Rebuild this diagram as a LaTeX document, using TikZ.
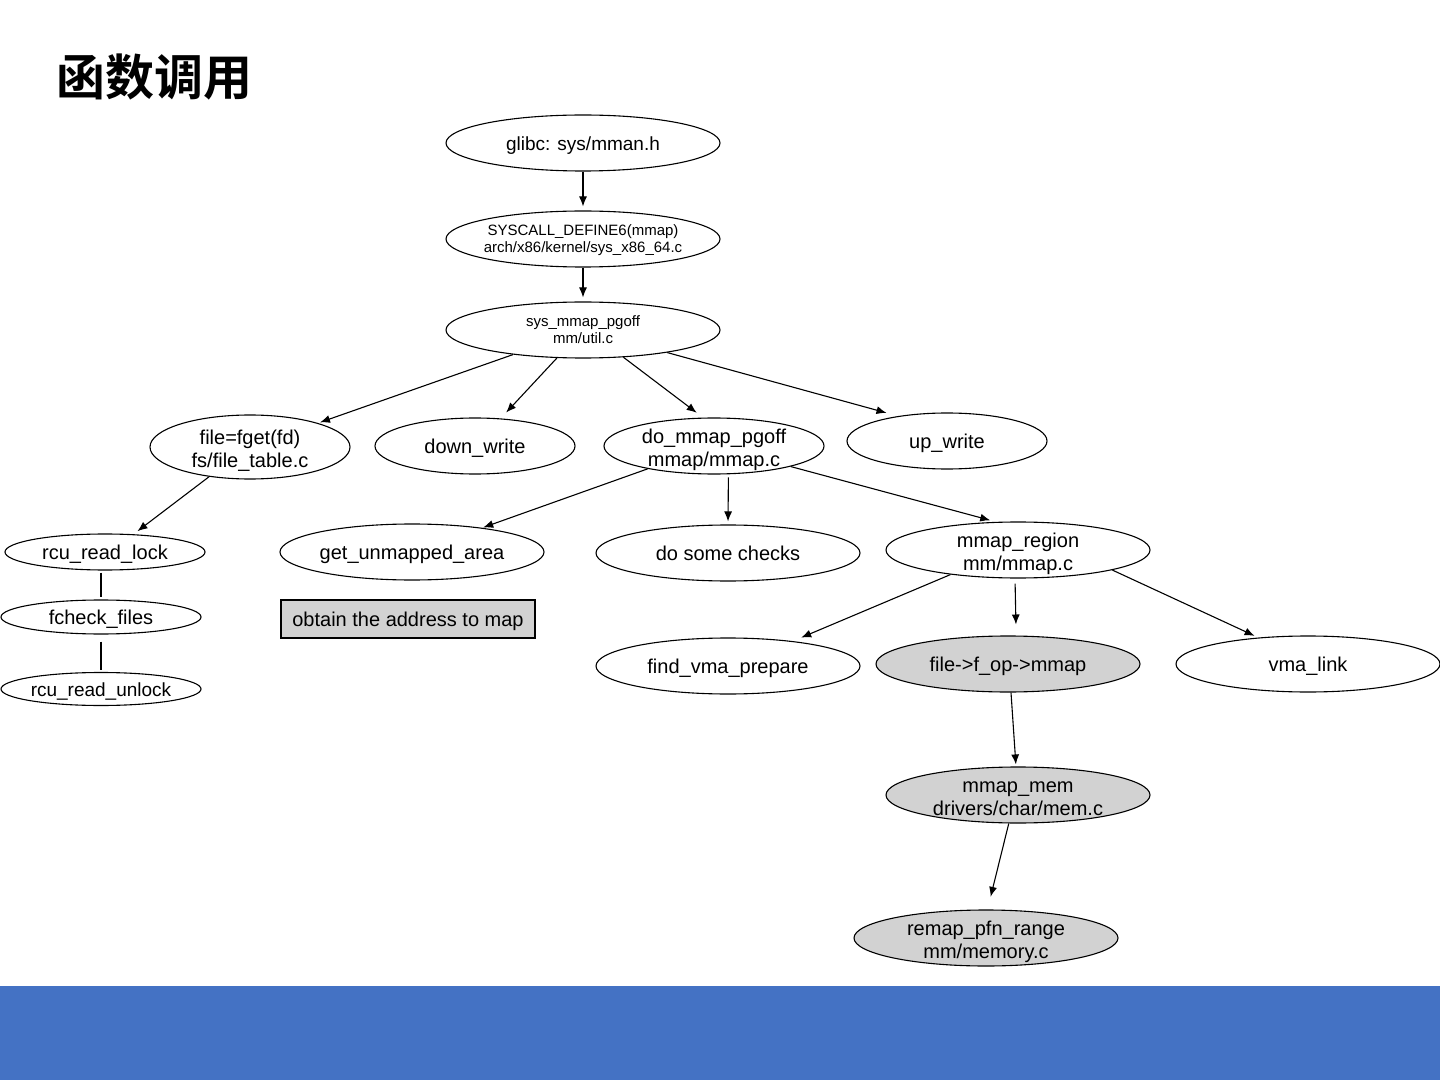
\documentclass[tikz,border=0pt]{standalone}
\usepackage{fontspec}
\setmainfont{Liberation Sans}
\newfontfamily\cjk{Noto Sans CJK SC}[BoldFont={Noto Sans CJK SC Bold}]
\usetikzlibrary{shapes.geometric,arrows.meta}
\definecolor{barblue}{RGB}{68,114,196}
\tikzset{
  fn/.style={ellipse, draw, inner sep=0pt, align=center,
    minimum width=132pt, minimum height=28pt,
    font=\fontsize{10}{11.5}\selectfont},
  one/.style={text height=9pt, text depth=1.5pt},
  two/.style={text height=#1, text depth=2pt, inner ysep=-4pt},
  two/.default=22.5pt,
  fnhot/.style={fn, fill=gray!35},
  fnsmall/.style={fn, minimum width=137pt, font=\fontsize{7.5}{8.5}\selectfont},
  note/.style={draw, fill=gray!35, inner sep=0pt, minimum width=127pt,
    minimum height=19pt, font=\fontsize{10}{11.5}\selectfont},
  call/.style={->, shorten >=#1},
  call/.default=0pt
}
\begin{document}
\begin{tikzpicture}[x=0.5pt, y=-0.5pt, >={Latex[length=5pt,width=4pt]}, line width=0.55pt]
    % 1. Page and title
    \useasboundingbox (0,0) rectangle (1440,1080);
    \fill[barblue] (0,986) rectangle (1440,1080);
    \node[font=\cjk\bfseries\fontsize{24.5}{24.5}\selectfont, anchor=west, inner sep=0pt] (title) at (56,77) {函数调用};

    % 2. Call chain from user space
    \node[fnsmall, one, font=\fontsize{9.5}{11}\selectfont] (glibc) at (583,143) {glibc: sys/mman.h};
    \node[fnsmall, two=16pt, inner xsep=-2pt] (sysc) at (583,239) {SYSCALL\_DEFINE6(mmap)\\arch/x86/kernel/sys\_x86\_64.c};
    \node[fnsmall, two=16pt] (pg) at (583,330) {sys\_mmap\_pgoff\\mm/util.c};

    % 3. Callees of sys_mmap_pgoff
    \node[fn, two, minimum width=100pt, minimum height=32pt] (fget) at (250,447) {file=fget(fd)\\fs/file\_table.c};
    \node[fn, one, minimum width=100pt] (dw) at (475,446) {down\_write};
    \node[fn, two, minimum width=110pt] (dmp) at (714,446) {do\_mmap\_pgoff\\mmap/mmap.c};
    \node[fn, one, minimum width=100pt] (uw) at (947,441) {up\_write};

    % 4. Inside fget
    \node[fn, one, minimum width=100pt, minimum height=18pt] (rl) at (105,552) {rcu\_read\_lock};
    \node[fn, one, minimum width=100pt, minimum height=17pt] (fc) at (101,617) {fcheck\_files};
    \node[fn, one, minimum width=100pt, minimum height=16.5pt, font=\fontsize{9.5}{11}\selectfont] (ru) at (101,689) {rcu\_read\_unlock};

    % 5. Inside do_mmap_pgoff
    \node[fn, one] (gua) at (412,552) {get\_unmapped\_area};
    \node[note, one] (addr) at (408,619) {obtain the address to map};
    \node[fn, one] (chk) at (728,553) {do some checks};
    \node[fn, two] (mr) at (1018,550) {mmap\_region\\mm/mmap.c};

    % 6. Inside mmap_region
    \node[fn, one] (fvp) at (728,666) {find\_vma\_prepare};
    \node[fnhot, one] (fop) at (1008,664) {file->f\_op->mmap};
    \node[fn, one] (vma) at (1308,664) {vma\_link};
    \node[fnhot, two] (mem) at (1018,795) {mmap\_mem\\drivers/char/mem.c};
    \node[fnhot, two] (remap) at (986,938) {remap\_pfn\_range\\mm/memory.c};

    % 7. Calls
    \draw[call=2pt] (glibc) -- (sysc);
    \draw[call=2pt] (sysc) -- (pg);
    \draw[call=1pt] (pg) -- (fget);
    \draw[call=4pt] (pg) -- (dw);
    \draw[call=4pt] (pg.-34) -- (dmp.111);
    \draw[call=6pt] (pg.-15) -- (uw.153);
    \draw[call=2.5pt] (fget.216) -- (rl.32);
    \draw[shorten <=1pt, shorten >=1pt] (rl.south -| fc.north) -- (fc.north);
    \draw[shorten <=3.5pt, shorten >=1pt] (fc.south) -- (ru.north);
    \draw[call=0.5pt] (dmp.199) -- (gua.19);
    \draw[call=1.5pt, shorten <=1.5pt] (dmp.-63) -- (chk.north);
    \draw[call=3pt] (dmp.-15) -- (mr.128);
    \draw[call=4.5pt] (mr.200) -- (fvp.21);
    \draw[call=5.5pt, shorten <=2.5pt] (mr.-96) -- (fop.74);
    \draw[call=2pt] (mr.-12) -- (vma.152);
    \draw[call=1pt] (fop.-84) -- (mem.94);
    \draw[call=6.5pt] (mem.-108) -- (remap.87);
\end{tikzpicture}
\end{document}
